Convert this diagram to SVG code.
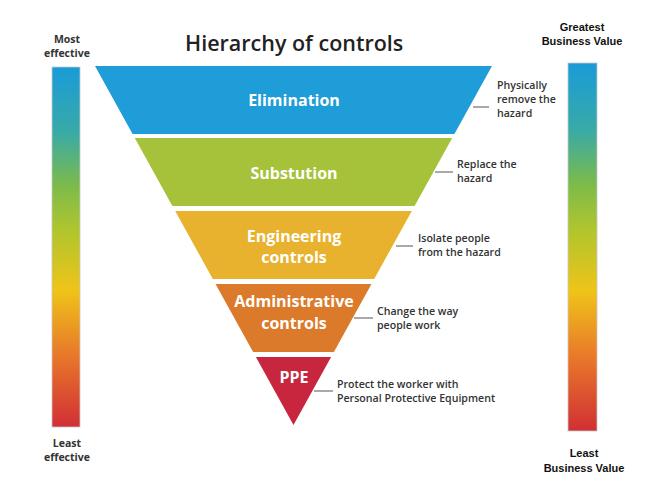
<svg xmlns="http://www.w3.org/2000/svg" width="667" height="494" viewBox="0 0 667 494">
<defs>
<linearGradient id="bar" x1="0" y1="0" x2="0" y2="1">
<stop offset="0" stop-color="#1a9bd8"/>
<stop offset="0.18" stop-color="#38aaa8"/>
<stop offset="0.33" stop-color="#7cbb4a"/>
<stop offset="0.45" stop-color="#afc52e"/>
<stop offset="0.62" stop-color="#efc419"/>
<stop offset="0.80" stop-color="#e8782a"/>
<stop offset="1" stop-color="#d12f35"/>
</linearGradient>
<style>
.band-label{font-family:"Open Sans","Liberation Sans",sans-serif;font-weight:700;font-size:16px;fill:#ffffff;text-anchor:middle}
.note{font-family:"Open Sans","Liberation Sans",sans-serif;font-weight:600;font-size:10.6px;fill:#333333}
.side{font-family:"Open Sans","Liberation Sans",sans-serif;font-weight:700;font-size:10.5px;fill:#333333;text-anchor:middle}
.side2{font-family:"Liberation Sans",Arial,sans-serif;font-weight:700;font-size:11px;fill:#111111;text-anchor:middle}
.title{font-family:"Open Sans","Liberation Sans",sans-serif;font-weight:600;font-size:21.5px;fill:#222222}
.conn{stroke:#555555;stroke-width:1;fill:none}
.barr{fill:url(#bar);stroke:#c8c8c8;stroke-width:0.8}
</style>
</defs>
<rect width="667" height="494" fill="#ffffff"/>
<text class="title" x="185" y="51">Hierarchy of controls</text>

<g id="bar-effectiveness">
<rect class="barr" x="52" y="67" width="28" height="360"/>
<text class="side" x="67" y="43">Most</text>
<text class="side" x="67" y="57">effective</text>
<text class="side" x="67" y="447">Least</text>
<text class="side" x="67" y="461">effective</text>
</g>

<g id="bar-value">
<rect class="barr" x="568" y="63" width="29" height="368"/>
<text class="side2" x="582" y="31">Greatest</text>
<text class="side2" x="582" y="45">Business Value</text>
<text class="side2" x="584" y="457">Least</text>
<text class="side2" x="584" y="472">Business Value</text>
</g>

<g id="elimination">
<polygon points="95,66 492,66 454.4,134 132.6,134" fill="#1e9dd8"/>
<text class="band-label" x="294" y="106">Elimination</text>
<text class="note" x="497" y="89">Physically</text>
<text class="note" x="497" y="103">remove the</text>
<text class="note" x="497" y="117">hazard</text>
</g>

<g id="substitution">
<polygon points="134.8,138 452.2,138 414.6,206 172.4,206" fill="#a5c23a"/>
<text class="band-label" x="294" y="179">Substution</text>
<text class="note" x="457" y="168">Replace the</text>
<text class="note" x="457" y="182">hazard</text>
</g>

<g id="engineering">
<polygon points="175.2,211 411.8,211 374.2,279 212.8,279" fill="#e8b22e"/>
<text class="band-label" x="294" y="242">Engineering</text>
<text class="band-label" x="294" y="263">controls</text>
<text class="note" x="418" y="242">Isolate people</text>
<text class="note" x="418" y="256">from the hazard</text>
</g>

<g id="administrative">
<polygon points="215.5,284 371.5,284 333.9,352 253.1,352" fill="#dc7a2b"/>
<text class="band-label" x="294" y="307">Administrative</text>
<text class="band-label" x="294" y="329">controls</text>
<text class="note" x="377" y="315">Change the way</text>
<text class="note" x="377" y="329">people work</text>
</g>

<g id="ppe">
<polygon points="255.9,357 331.1,357 293.5,425" fill="#c8253f"/>
<text class="band-label" x="294" y="383">PPE</text>
<text class="note" x="337" y="388">Protect the worker with</text>
<text class="note" x="337" y="402">Personal Protective Equipment</text>
</g>

<g id="connectors">
<line class="conn" x1="473" y1="107" x2="489" y2="107"/>
<line class="conn" x1="435" y1="172" x2="453" y2="172"/>
<line class="conn" x1="396" y1="246" x2="413" y2="246"/>
<line class="conn" x1="354" y1="318" x2="373" y2="318"/>
<line class="conn" x1="314" y1="391" x2="333" y2="391"/>
</g>
</svg>
